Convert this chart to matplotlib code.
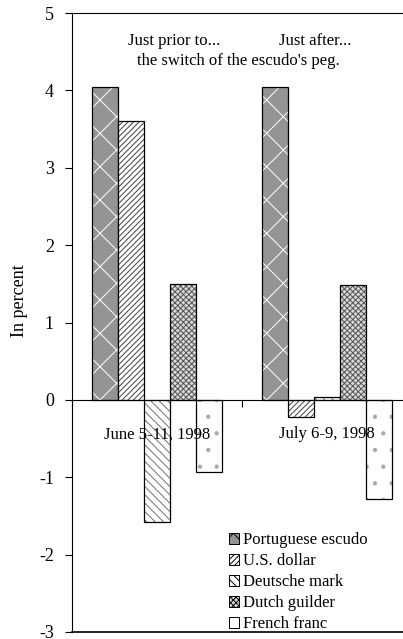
import matplotlib.pyplot as plt
from matplotlib.patches import Patch
import numpy as np

plt.rcParams['font.family'] = ['Liberation Serif', 'DejaVu Serif']
plt.rcParams['hatch.linewidth'] = 0.7
plt.rcParams['axes.unicode_minus'] = False

periods = ['June 5-11, 1998', 'July 6-9, 1998']
currencies = ['Portuguese escudo', 'U.S. dollar', 'Deutsche mark', 'Dutch guilder', 'French franc']
escudo = [4.05, 4.04]
dollar = [3.6, -0.22]
mark = [-1.58, 0.04]
guilder = [1.5, 1.49]
franc = [-0.93, -1.28]
values = [escudo, dollar, mark, guilder, franc]

# look of each series: face, hatch, hatch colour
faces = ['#949494', 'white', 'white', '#d8d8d8', 'white']
hatches = ['x', '//////', '\\\\\\\\', 'xxxxxx', '.']
hatch_cols = ['white', '#404040', '#707070', '#555555', '#aaaaaa']

fig = plt.figure(figsize=(4.03, 6.39), dpi=100)
ax = fig.add_axes([72/403, 7/639, 340/403, 619/639])

x = np.arange(len(periods))
w = 26/170
for i, vals in enumerate(values):
    pos = x + (i - 2) * w
    ax.bar(pos, vals, w, color=faces[i], hatch=hatches[i], edgecolor=hatch_cols[i], linewidth=0)
    ax.bar(pos, vals, w, fill=False, edgecolor='black', linewidth=0.9)

ax.set_xlim(-0.5, 1.5)
ax.set_ylim(-3, 5)
ax.set_yticks(range(-3, 6))
ax.tick_params(axis='y', direction='out', length=5, labelsize=13, width=0.8, pad=8)

ax.spines['right'].set_visible(False)
ax.spines['bottom'].set_position(('data', 0))
ax.spines['left'].set_linewidth(0.8)
ax.spines['top'].set_linewidth(0.8)
ax.spines['bottom'].set_linewidth(0.8)
ax.axhline(-3, color='black', linewidth=1.2, clip_on=False)

ax.set_xticks([-0.5, 0.5, 1.5])
ax.set_xticklabels([])
ax.tick_params(axis='x', direction='out', length=5, width=0.8)
ax.set_xticks(x, minor=True)
ax.set_xticklabels(periods, minor=True, fontsize=12)
ax.tick_params(axis='x', which='minor', length=0, pad=19)

ax.set_ylabel('In percent', fontsize=13)
ax.yaxis.set_label_coords(-0.13, 0.535)

ax.text(0.1, 4.64, 'Just prior to...', ha='center', va='center', fontsize=12)
ax.text(0.93, 4.64, 'Just after...', ha='center', va='center', fontsize=12)
ax.text(0.48, 4.38, "the switch of the escudo's peg.", ha='center', va='center', fontsize=12)

handles = [Patch(facecolor=faces[i], edgecolor='black', hatch=hatches[i], linewidth=0.7) for i in range(5)]
ax.legend(handles, currencies, loc='lower left', bbox_to_anchor=(0.428, -0.019), frameon=False,
          fontsize=12, handlelength=0.6, handleheight=0.6, handletextpad=0.25, labelspacing=0.3,
          borderaxespad=0.3)

fig.savefig('out.png', dpi=100)
